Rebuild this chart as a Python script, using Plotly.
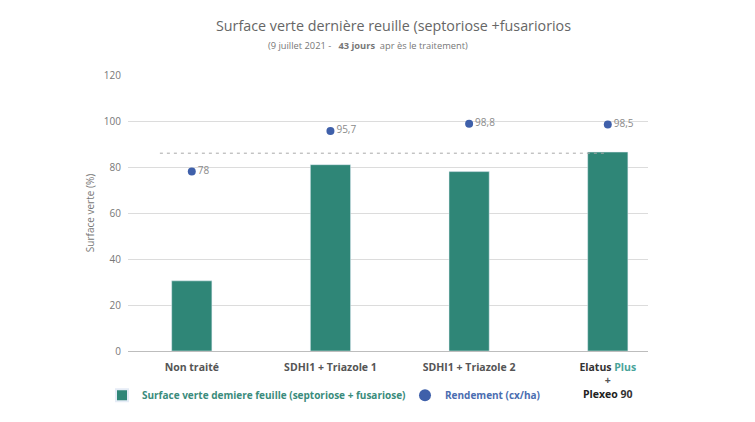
import plotly.graph_objects as go

categories = ["Non traité", "SDHI1 + Triazole 1", "SDHI1 + Triazole 2", "Elatus Plus + Plexeo 90"]
tick_labels = [
    "<b>Non traité</b>",
    "<b>SDHI1 + Triazole 1</b>",
    "<b>SDHI1 + Triazole 2</b>",
    '<b><span style="color:#333">Elatus </span><span style="color:#4aa39a">Plus</span>'
    "<br>+<br>"
    '<span style="color:#222">Plexeo</span><span style="color:#333"> 90</span></b>',
]
surface_verte = [30.5, 81, 78, 86.5]
rendement = [78, 95.7, 98.8, 98.5]
reference_level = 86
reference_span = [-0.23, 3]

BAR_COLOR = "#2f8677"
DOT_COLOR = "#3f60aa"
FONT = "Open Sans"

fig = go.Figure()

fig.add_trace(
    go.Bar(
        x=categories,
        y=surface_verte,
        width=0.29,
        marker_color=BAR_COLOR,
        name='<span style="color:#3a8c7c"><b>Surface verte demiere feuille (septoriose + fusariose)</b></span>',
    )
)

# seuil en pointillés
fig.add_trace(
    go.Scatter(
        x=reference_span,
        y=[reference_level, reference_level],
        xaxis="x2",
        mode="lines",
        line=dict(color="#a8a8a8", width=1, dash="3px,4px"),
        showlegend=False,
        hoverinfo="skip",
    )
)

fig.add_trace(
    go.Scatter(
        x=categories,
        y=rendement,
        mode="markers+text",
        marker=dict(color=DOT_COLOR, size=8),
        text=[f"{v:g}".replace(".", ",") for v in rendement],
        textposition="middle right",
        textfont=dict(color="#8a8a8a", size=10, family=FONT),
        name='<span style="color:#4a6db0"><b>Rendement (cx/ha)</b></span>',
    )
)

# la page a une marge de 8 px : figure réduite d'autant
fig.update_layout(
    width=747,
    height=414,
    margin=dict(l=120, r=107, t=67, b=71, autoexpand=False),
    plot_bgcolor="white",
    paper_bgcolor="white",
    font=dict(family=FONT, color="#666"),
    showlegend=True,
    legend=dict(
        orientation="h",
        x=-0.05,
        xanchor="left",
        y=-0.16,
        yanchor="middle",
        bgcolor="rgba(0,0,0,0)",
        font=dict(size=10, family=FONT),
        itemsizing="constant",
        entrywidth=258,
        traceorder="normal",
    ),
    xaxis=dict(
        type="category",
        range=[-0.46, 3.29],
        tickvals=categories,
        ticktext=tick_labels,
        tickfont=dict(size=10.5, color="#555", family=FONT),
        ticklabelstandoff=8,
        showgrid=False,
        showline=False,
        ticks="",
        automargin=False,
    ),
    xaxis2=dict(
        overlaying="x",
        range=[-0.46, 3.29],
        visible=False,
    ),
    yaxis=dict(
        range=[0, 120],
        dtick=20,
        gridcolor="#dcdcdc",
        zeroline=True,
        zerolinecolor="#bdbdbd",
        zerolinewidth=1,
        tickfont=dict(size=10, color="#777"),
        ticklabelstandoff=6,
        automargin=True,
        title=dict(text="Surface verte (%)", font=dict(size=10, color="#777"), standoff=7),
    ),
    bargap=0.7,
)

fig.add_annotation(
    text="Surface verte dernière reuille (septoriose +fusariorios",
    xref="paper", yref="paper", x=0.51, y=1.181, xanchor="center", yanchor="middle",
    showarrow=False, font=dict(size=14.3, color="#666", family=FONT),
)
fig.add_annotation(
    text="(9 juillet 2021 -   <b>43 jours</b>  apr ès le traitement)",
    xref="paper", yref="paper", x=0.462, y=1.107, xanchor="center", yanchor="middle",
    showarrow=False, font=dict(size=9.3, color="#777", family=FONT),
)

fig.write_html("out.html")
